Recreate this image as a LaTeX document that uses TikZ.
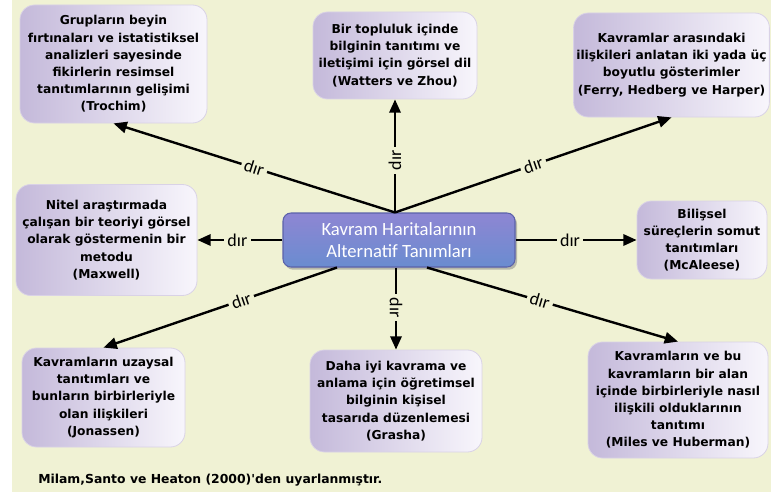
\documentclass[tikz,border=0pt]{standalone}
\usepackage{fontspec}
\setmainfont{DejaVu Sans}
\newfontfamily\labelfont{Carlito}
\usetikzlibrary{arrows.meta,shadows,calc}

\definecolor{pagebg}{HTML}{F0F2D4}
\definecolor{boxL}{HTML}{C4B9DA}
\definecolor{boxR}{HTML}{F8F6FC}
\definecolor{boxEdge}{HTML}{D9D2E6}
\definecolor{hubTop}{HTML}{8E86D3}
\definecolor{hubBot}{HTML}{6A8CD0}
\definecolor{hubEdge}{HTML}{5B62AA}

\begin{document}
\begin{tikzpicture}[x=0.75pt,y=-0.75pt,
  size/.style 2 args={minimum width=#1*0.75pt, minimum height=#2*0.75pt},
  defbox/.style={rectangle, rounded corners=11pt, left color=boxL, right color=boxR,
    draw=boxEdge, line width=0.6pt, align=center, inner sep=2pt,
    font=\bfseries\fontsize{9.2}{12.9}\selectfont},
  hub/.style={rectangle, rounded corners=6pt, top color=hubTop, bottom color=hubBot,
    draw=hubEdge, line width=0.8pt, align=center, text=white,
    font=\labelfont\fontsize{14}{16}\selectfont,
    drop shadow={shadow xshift=1.5pt, shadow yshift=-2pt, opacity=0.5}},
  link/.style={line width=1.8pt, -{Triangle[length=10pt,width=8.5pt]}},
  rel/.style={font=\labelfont\fontsize{13.5}{13.5}\selectfont, fill=pagebg, inner sep=2.5pt, sloped}
]
% page
\fill[white] (0,0) rectangle (771,492);
\fill[pagebg] (12,0) rectangle (771,492);
\useasboundingbox (0,0) rectangle (771,492);

% central concept
\node[hub, size={232}{54}] (hub) at (399,240) {Kavram Haritalarının\\Alternatif Tanımları};

% definitions
\node[defbox, size={187}{118}] (tro) at (113.5,64) {Grupların beyin\\fırtınaları ve istatistiksel\\analizleri sayesinde\\fikirlerin resimsel\\tanıtımlarının gelişimi\\(Trochim)};
\node[defbox, size={164}{87}] (wat) at (395,55.5) {Bir topluluk içinde\\bilginin tanıtımı ve\\iletişimi için görsel dil\\(Watters ve Zhou)};
\node[defbox, size={193}{104}] (fer) at (671.5,65) {Kavramlar arasındaki\\ilişkileri anlatan iki yada üç\\boyutlu gösterimler\\(Ferry, Hedberg ve Harper)};
\node[defbox, size={181}{111}] (max) at (106.5,240) {Nitel araştırmada\\çalışan bir teoriyi görsel\\olarak göstermenin bir\\metodu\\(Maxwell)};
\node[defbox, size={130}{78}] (mca) at (702,240) {Bilişsel\\süreçlerin somut\\tanıtımları\\(McAleese)};
\node[defbox, size={163}{99}] (jon) at (103.5,397.5) {Kavramların uzaysal\\tanıtımları ve\\bunların birbirleriyle\\olan ilişkileri\\(Jonassen)};
\node[defbox, size={172}{102}] (gra) at (396,401) {Daha iyi kavrama ve\\anlama için öğretimsel\\bilginin kişisel\\tasarıda düzenlemesi\\(Grasha)};
\node[defbox, size={180}{116}] (mil) at (678,400) {Kavramların ve bu\\kavramların bir alan\\içinde birbirleriyle nasıl\\ilişkili olduklarının\\tanıtımı\\(Miles ve Huberman)};

% start points on the central box
\coordinate (ctop) at (hub.north -| wat.south);
\coordinate (cbot) at (hub.south -| gra.north);
\coordinate (cbl) at ($(hub.south)+(-62,0)$);
\coordinate (cbr) at ($(hub.south)+(28,0)$);

% connectors
\draw[link] (ctop) -- node[rel,pos=0.5]{dır} (tro.south);
\draw[link] (ctop) -- node[rel,pos=0.46]{dır} (wat.south);
\draw[link] (ctop) -- node[rel,pos=0.5]{dır} (fer.south);
\draw[link] (hub.west) -- node[rel,pos=0.53]{dır} (max.east);
\draw[link] (hub.east) -- node[rel,pos=0.45]{dır} (mca.west);
\draw[link] (cbl) -- node[rel,pos=0.41]{dır} (jon.north);
\draw[link] (cbot) -- node[rel,pos=0.49]{dır} (gra.north);
\draw[link] (cbr) -- node[rel,pos=0.45]{dır} (mil.north);

% source line
\node[anchor=west, inner sep=0pt, font=\bfseries\fontsize{9.3}{11}\selectfont] (src) at (38,480)
  {Milam,Santo ve Heaton (2000)\textquotesingle den uyarlanmıştır.};
\end{tikzpicture}
\end{document}
